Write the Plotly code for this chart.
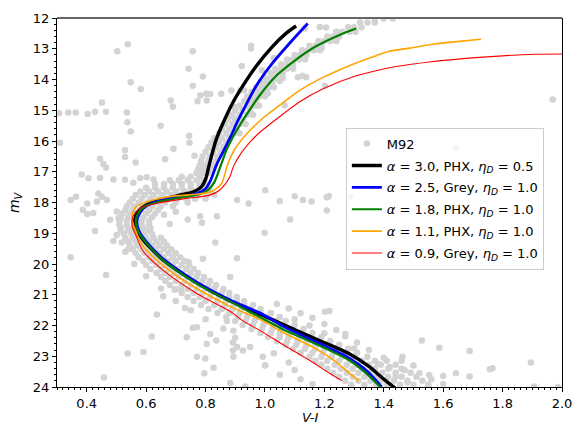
import plotly.graph_objects as go

# ---------------- isochrones (V-I, m_V) ----------------
black_x = [1.105, 1.071, 1.026, 0.971, 0.926, 0.893, 0.856, 0.835, 0.813, 0.800, 0.786, 0.760, 0.713, 0.646,
           0.601, 0.573, 0.562, 0.567, 0.589, 0.612, 0.655, 0.765, 0.878, 0.990, 1.060, 1.172, 1.284, 1.351,
           1.396, 1.440]
black_y = [12.26, 12.50, 12.92, 13.56, 14.20, 14.73, 15.48, 15.98, 16.75, 17.25, 17.49, 17.65, 17.76, 17.92,
           18.08, 18.29, 18.56, 18.88, 19.20, 19.45, 19.85, 20.58, 21.18, 21.66, 21.96, 22.44, 22.92, 23.34,
           23.71, 24.05]

blue_x = [1.144, 1.083, 1.026, 0.971, 0.930, 0.902, 0.889, 0.862, 0.838, 0.817, 0.800, 0.772, 0.700, 0.646,
          0.601, 0.578, 0.569, 0.576, 0.601, 0.657, 0.769, 0.881, 0.993, 1.060, 1.172, 1.284, 1.340, 1.393]
blue_y = [12.18, 12.82, 13.46, 14.20, 14.94, 15.48, 15.77, 16.30, 16.75, 17.28, 17.55, 17.71, 17.84, 17.94,
          18.11, 18.35, 18.61, 18.93, 19.28, 19.83, 20.58, 21.16, 21.64, 22.02, 22.54, 23.06, 23.45, 24.00]

green_x = [1.307, 1.251, 1.172, 1.105, 1.038, 0.982, 0.937, 0.898, 0.870, 0.853, 0.830, 0.808, 0.780, 0.700,
           0.646, 0.595, 0.573, 0.565, 0.573, 0.595, 0.655, 0.767, 0.879, 0.948, 1.060, 1.172, 1.284, 1.340,
           1.390]
green_y = [12.34, 12.55, 12.92, 13.35, 13.88, 14.52, 15.16, 15.77, 16.30, 16.75, 17.33, 17.60, 17.73, 17.87,
           17.97, 18.13, 18.35, 18.61, 18.93, 19.25, 19.86, 20.62, 21.20, 21.55, 22.12, 22.60, 23.13, 23.55,
           24.02]

orange_x = [1.727, 1.654, 1.576, 1.486, 1.419, 1.385, 1.307, 1.194, 1.116, 1.049, 0.993, 0.945, 0.896, 0.875,
            0.853, 0.825, 0.791, 0.679, 0.612, 0.567, 0.554, 0.554, 0.562, 0.589, 0.657, 0.769, 0.881, 0.993,
            1.060, 1.172, 1.239, 1.284, 1.316]
orange_y = [12.69, 12.76, 12.84, 12.98, 13.08, 13.19, 13.46, 13.94, 14.36, 14.84, 15.26, 15.70, 16.30, 16.75,
            17.40, 17.62, 17.71, 17.81, 17.95, 18.13, 18.35, 18.61, 18.85, 19.41, 20.05, 20.79, 21.37, 21.85,
            22.22, 22.76, 23.18, 23.55, 23.80]

red_x = [2.05, 1.912, 1.721, 1.553, 1.441, 1.385, 1.307, 1.194, 1.116, 1.049, 0.985, 0.958, 0.916, 0.893,
         0.881, 0.847, 0.814, 0.735, 0.634, 0.578, 0.556, 0.553, 0.565, 0.589, 0.657, 0.769, 0.881, 0.926,
         0.990, 1.060, 1.150, 1.217, 1.260]
red_y = [13.17, 13.18, 13.28, 13.43, 13.58, 13.69, 13.88, 14.31, 14.73, 15.21, 15.70, 15.95, 16.45, 16.85,
         17.18, 17.60, 17.76, 17.87, 18.03, 18.19, 18.45, 18.77, 19.05, 19.57, 20.20, 20.95, 21.53, 21.85,
         22.20, 22.62, 23.13, 23.55, 23.80]

iso_labels = [
    "<i>α</i> = 3.0, PHX, <i>η<sub>D</sub></i> = 0.5",
    "<i>α</i> = 2.5, Grey, <i>η<sub>D</sub></i> = 1.0",
    "<i>α</i> = 1.8, PHX, <i>η<sub>D</sub></i> = 1.0",
    "<i>α</i> = 1.1, PHX, <i>η<sub>D</sub></i> = 1.0",
    "<i>α</i> = 0.9, Grey, <i>η<sub>D</sub></i> = 1.0",
]

# ---------------- M92 photometry ----------------
m92_outliers = [
    (0.503, 13.08), (0.538, 12.85), (0.757, 13.08), (0.953, 12.90), (0.953, 12.99), (0.743, 13.65),
    (0.791, 13.90), (0.757, 14.20), (0.548, 14.09), (0.582, 14.31), (0.922, 13.56), (0.917, 14.36),
    (0.945, 14.57), (0.816, 14.47), (0.804, 14.68), (0.782, 14.52), (0.451, 14.75), (0.363, 15.07),
    (0.338, 15.07), (0.307, 15.10), (0.403, 15.12), (0.428, 15.05), (0.465, 15.05), (0.535, 15.07),
    (0.537, 15.39), (0.548, 15.69), (0.683, 14.68), (0.690, 14.89), (0.649, 15.50), (0.310, 16.06),
    (0.745, 15.83), (0.746, 16.06), (0.692, 16.25), (0.529, 16.29), (0.529, 16.52), (0.445, 16.58),
    (0.456, 16.75), (0.465, 16.86), (0.565, 16.70), (0.664, 16.59), (0.763, 16.48), (0.383, 17.09),
    (0.406, 17.21), (0.445, 17.20), (0.490, 17.25), (0.529, 17.26), (0.557, 17.36), (0.580, 17.20),
    (0.602, 17.18), (0.625, 17.25), (0.364, 17.81), (0.346, 17.92), (0.387, 18.24), (0.402, 18.37),
    (0.422, 18.34), (0.402, 18.03), (0.434, 17.97), (0.451, 17.81), (0.468, 17.92), (0.501, 18.29),
    (0.507, 18.50), (0.479, 18.56), (0.439, 17.71), (0.428, 18.93), (0.346, 19.78), (0.465, 20.36),
    (0.501, 19.06), (0.490, 19.25), (0.518, 19.30), (0.540, 19.51), (0.782, 18.45), (0.788, 18.66),
    (0.838, 18.45), (0.906, 17.92), (0.945, 18.03), (1.001, 17.60), (1.085, 18.55), (0.999, 18.98),
    (0.833, 19.30), (0.906, 19.81), (0.883, 20.42), (0.791, 19.83), (0.743, 19.94), (0.66, 18.40),
    (0.70, 18.30), (0.68, 18.70), (0.74, 18.55),
    (0.619, 22.36), (0.538, 22.91), (0.591, 22.86), (0.458, 23.69), (0.771, 23.02), (0.799, 23.07),
    (0.827, 23.37), (0.796, 23.55), (0.894, 23.02), (0.906, 22.70), (1.001, 23.29), (0.934, 23.98),
    (0.883, 23.87), (0.872, 21.85), (0.894, 22.17), (0.816, 22.28), (0.658, 21.05), (0.731, 21.43),
    (0.771, 22.06), (0.737, 22.38), (0.636, 21.64), (0.804, 22.60), (0.696, 20.84), (0.718, 20.84),
    (0.836, 22.49), (0.892, 22.55), (0.892, 22.81), (0.926, 22.81), (0.757, 22.07),
    (1.206, 12.31), (1.083, 13.54), (1.066, 14.84), (1.127, 13.88), (1.134, 12.34), (1.185, 12.29),
    (1.191, 12.98), (1.111, 13.93), (1.139, 13.93), (1.202, 14.20), (1.969, 14.65), (0.773, 14.71),
    (0.802, 14.46), (0.853, 14.46), (0.887, 14.36), (0.90, 14.90), (0.88, 15.20), (0.93, 14.35),
    (0.99, 13.70), (1.03, 13.30), (1.01, 14.45), (1.05, 14.05), (0.97, 14.85),
    (1.128, 17.92), (1.157, 17.97), (1.208, 17.83), (1.215, 17.79), (1.208, 18.26), (1.290, 17.81),
    (1.643, 16.22), (1.05, 17.95), (1.10, 17.80),
    (1.202, 21.55), (1.271, 22.28), (1.528, 22.49), (1.689, 22.83), (1.895, 23.20), (1.757, 23.42),
    (1.689, 23.66), (1.600, 23.64), (1.986, 24.00), (1.587, 22.72), (1.766, 23.39), (1.643, 23.55),
    (1.906, 23.98), (1.463, 23.02), (1.553, 23.61), (1.217, 21.53),
]

m92_binary = [
    (1.04, 21.30), (1.08, 21.45), (1.12, 21.60), (1.16, 21.75), (1.20, 21.95), (1.24, 22.15),
    (1.27, 22.35), (1.31, 22.55), (1.35, 22.80), (1.40, 23.05), (1.46, 23.15), (1.50, 23.30),
    (1.42, 23.35), (1.47, 23.45), (1.52, 23.55), (1.44, 23.65), (1.56, 23.75), (1.48, 23.85),
    (1.60, 23.90), (1.55, 24.00), (1.10, 21.80), (1.15, 22.00), (1.20, 22.25), (1.30, 22.75),
    (1.38, 23.25),
    (0.993, 23.02), (1.00, 23.30), (1.10, 23.45), (1.05, 23.60), (1.12, 23.75), (1.16, 23.90),
    (1.08, 23.20), (1.03, 22.90), (0.95, 22.70), (0.90, 22.40), (0.86, 22.10), (0.80, 21.80),
    (0.75, 21.50), (0.70, 21.20), (0.65, 20.80), (0.60, 20.40), (0.56, 20.00), (0.53, 19.60),
]

m92_rgb_rows = [
    (17.04, [0.77, 0.79, 0.81]), (16.92, [0.775, 0.795, 0.815]), (16.80, [0.78, 0.80, 0.825]),
    (16.65, [0.785, 0.81, 0.835]), (16.50, [0.79, 0.815, 0.84]), (16.35, [0.80, 0.825, 0.85]),
    (16.20, [0.81, 0.835, 0.86]), (16.05, [0.82, 0.845, 0.87]), (15.90, [0.83, 0.855, 0.88]),
    (15.75, [0.845, 0.87, 0.895, 0.915]), (15.60, [0.855, 0.88, 0.905]), (15.45, [0.865, 0.89, 0.915, 0.935]),
    (15.30, [0.875, 0.90, 0.925]), (15.15, [0.89, 0.915, 0.94, 0.96]), (15.00, [0.90, 0.925, 0.95]),
    (14.85, [0.915, 0.94, 0.96, 0.98]), (14.70, [0.93, 0.95, 0.97]), (14.55, [0.94, 0.96, 0.98, 1.00]),
    (14.40, [0.955, 0.975, 0.995]), (14.25, [0.97, 0.99, 1.01, 1.03]), (14.10, [0.985, 1.005, 1.025]),
    (13.95, [1.00, 1.02, 1.04, 1.06]), (13.80, [1.02, 1.04, 1.06]), (13.65, [1.035, 1.055, 1.075, 1.095]),
    (13.50, [1.055, 1.075, 1.095]), (13.35, [1.075, 1.095, 1.115, 1.135]), (13.20, [1.10, 1.12, 1.14]),
    (13.05, [1.125, 1.145, 1.165, 1.185]), (12.90, [1.15, 1.17, 1.19]), (12.75, [1.18, 1.20, 1.22, 1.24]),
    (12.60, [1.21, 1.23, 1.25]), (12.45, [1.24, 1.26, 1.285, 1.305]), (12.30, [1.28, 1.30, 1.325]),
    (12.15, [1.32, 1.345, 1.37]), (12.02, [1.37, 1.40, 1.43]),
]

m92_sgb_rows = [
    (17.16, [0.72, 0.75, 0.78]),
    (17.28, [0.68, 0.71, 0.74, 0.77, 0.795]),
    (17.40, [0.63, 0.66, 0.69, 0.72, 0.75, 0.78, 0.80]),
    (17.52, [0.60, 0.63, 0.66, 0.69, 0.72, 0.75, 0.78, 0.805]),
    (17.64, [0.58, 0.61, 0.64, 0.67, 0.70, 0.73, 0.76, 0.79, 0.815]),
    (17.76, [0.565, 0.595, 0.625, 0.655, 0.685, 0.715, 0.745, 0.775, 0.805, 0.83]),
    (17.88, [0.555, 0.585, 0.615, 0.645, 0.675, 0.705, 0.735, 0.765, 0.80]),
    (18.00, [0.545, 0.575, 0.605, 0.635, 0.665, 0.70, 0.74]),
    (18.12, [0.535, 0.56, 0.59, 0.62, 0.65, 0.69]),
    (18.24, [0.53, 0.555, 0.58, 0.61, 0.64]),
    (18.36, [0.52, 0.545, 0.57, 0.60, 0.63]),
    (18.48, [0.515, 0.54, 0.565, 0.59, 0.62]),
    (18.60, [0.51, 0.535, 0.56, 0.585, 0.61]),
    (18.72, [0.51, 0.535, 0.56, 0.585, 0.61]),
    (18.84, [0.515, 0.54, 0.565, 0.59, 0.615]),
]

m92_ms_rows = [
    (18.90, [0.515, 0.54, 0.56, 0.585, 0.61]),
    (19.02, [0.525, 0.55, 0.57, 0.595, 0.62]),
    (19.15, [0.53, 0.555, 0.58, 0.60, 0.625, 0.65]),
    (19.27, [0.54, 0.565, 0.59, 0.61, 0.635, 0.66]),
    (19.40, [0.545, 0.57, 0.595, 0.62, 0.645, 0.67]),
    (19.52, [0.555, 0.585, 0.605, 0.63, 0.66, 0.685]),
    (19.65, [0.565, 0.595, 0.62, 0.645, 0.675, 0.70]),
    (19.78, [0.575, 0.61, 0.635, 0.66, 0.69, 0.715]),
    (19.90, [0.59, 0.62, 0.65, 0.675, 0.70, 0.73]),
    (20.03, [0.60, 0.635, 0.665, 0.69, 0.72, 0.745]),
    (20.16, [0.615, 0.65, 0.68, 0.705, 0.735, 0.76]),
    (20.29, [0.635, 0.665, 0.695, 0.72, 0.75, 0.775]),
    (20.42, [0.65, 0.68, 0.71, 0.74, 0.77, 0.795]),
    (20.55, [0.665, 0.70, 0.73, 0.76, 0.79, 0.815]),
    (20.68, [0.68, 0.72, 0.75, 0.78, 0.81, 0.835]),
    (20.81, [0.70, 0.74, 0.77, 0.80, 0.83, 0.86]),
    (20.94, [0.72, 0.76, 0.79, 0.82, 0.855, 0.88]),
    (21.07, [0.74, 0.78, 0.815, 0.845, 0.88, 0.905]),
    (21.20, [0.76, 0.80, 0.84, 0.87, 0.905, 0.93]),
    (21.33, [0.785, 0.83, 0.865, 0.895, 0.93, 0.96]),
    (21.46, [0.81, 0.855, 0.89, 0.92, 0.955, 0.985]),
    (21.59, [0.84, 0.88, 0.915, 0.945, 0.985, 1.02]),
    (21.72, [0.87, 0.91, 0.94, 0.97, 1.01, 1.05]),
    (21.85, [0.90, 0.935, 0.965, 1.00, 1.035, 1.07]),
    (21.98, [0.925, 0.96, 0.995, 1.03, 1.06, 1.10]),
    (22.11, [0.955, 0.99, 1.025, 1.055, 1.09, 1.13]),
    (22.24, [0.985, 1.02, 1.05, 1.085, 1.12, 1.16]),
    (22.37, [1.01, 1.05, 1.08, 1.115, 1.15, 1.19]),
    (22.50, [1.04, 1.075, 1.11, 1.14, 1.18, 1.22]),
    (22.63, [1.07, 1.105, 1.14, 1.17, 1.21, 1.25]),
    (22.76, [1.095, 1.135, 1.17, 1.20, 1.24, 1.28]),
    (22.89, [1.12, 1.16, 1.195, 1.23, 1.27, 1.31]),
    (23.02, [1.15, 1.19, 1.225, 1.26, 1.30, 1.345]),
    (23.15, [1.17, 1.21, 1.25, 1.285, 1.325, 1.37, 1.41]),
    (23.28, [1.19, 1.235, 1.275, 1.31, 1.35, 1.39, 1.44]),
    (23.41, [1.21, 1.255, 1.295, 1.33, 1.37, 1.415, 1.46]),
    (23.54, [1.23, 1.275, 1.315, 1.355, 1.395, 1.44, 1.49]),
    (23.67, [1.25, 1.295, 1.335, 1.375, 1.415, 1.46, 1.51]),
    (23.80, [1.27, 1.315, 1.355, 1.39, 1.435, 1.48, 1.53]),
    (23.93, [1.29, 1.335, 1.375, 1.41, 1.455, 1.50, 1.55]),
]

# ---------------- build ----------------
m92_x, m92_y = [], []
for px_, py_ in m92_outliers + m92_binary:
    m92_x.append(px_)
    m92_y.append(py_)
for rows in (m92_rgb_rows, m92_sgb_rows, m92_ms_rows):
    for yv, xs in rows:
        for xv in xs:
            m92_x.append(xv)
            m92_y.append(yv)

fig = go.Figure()
fig.add_trace(go.Scatter(
    x=m92_x, y=m92_y, mode="markers", name="M92", legendgroup="g0",
    marker=dict(color="#d3d3d3", size=6.5, line=dict(width=0)),
))

iso = [
    (black_x, black_y, "black", 3.4),
    (blue_x, blue_y, "#0000ff", 2.8),
    (green_x, green_y, "#008000", 2.2),
    (orange_x, orange_y, "#ffa500", 1.6),
    (red_x, red_y, "#ff0000", 1.1),
]
for i, ((xs, ys, col, w), lab) in enumerate(zip(iso, iso_labels)):
    fig.add_trace(go.Scatter(
        x=xs, y=ys, mode="lines", name=lab, legendgroup=f"g{i+1}",
        line=dict(color=col, width=w, shape="spline", smoothing=0.8),
    ))

fig.update_layout(
    width=583, height=426,
    margin=dict(l=57, r=21, t=11, b=39),
    plot_bgcolor="white", paper_bgcolor="white",
    font=dict(family="DejaVu Sans", size=13, color="black"),
    showlegend=True,
    legend=dict(
        x=0.572, y=0.703, xanchor="left", yanchor="top",
        bgcolor="rgba(255,255,255,0.8)", bordercolor="#cccccc", borderwidth=1,
        font=dict(family="DejaVu Sans", size=13, color="black"),
        tracegroupgap=2, traceorder="grouped",
    ),
    xaxis=dict(
        range=[0.3, 2.0], tick0=0.4, dtick=0.2, tickformat=".1f",
        ticks="outside", ticklen=4, tickwidth=1, tickcolor="black",
        showline=True, linecolor="black", linewidth=1, mirror=False,
        showgrid=False, zeroline=False,
        minor=dict(dtick=0.02, tick0=0.3, ticks="outside", ticklen=2, tickwidth=1, tickcolor="black", showgrid=False),
    ),
    yaxis=dict(
        range=[24, 12], tick0=12, dtick=1,
        ticks="outside", ticklen=4, tickwidth=1, tickcolor="black",
        showline=True, linecolor="black", linewidth=1, mirror=True,
        showgrid=False, zeroline=False,
        minor=dict(dtick=0.2, ticks="outside", ticklen=2, tickwidth=1, tickcolor="black", showgrid=False),
    ),
    annotations=[
        dict(text="<i>V-I</i>", x=0.5, y=-0.082, xref="paper", yref="paper",
             xanchor="center", yanchor="middle", showarrow=False, font=dict(size=13)),
        dict(text="<i>m</i><sub><i>V</i></sub>", x=-0.084, y=0.5, xref="paper", yref="paper",
             xanchor="center", yanchor="middle", textangle=-90, showarrow=False, font=dict(size=14)),
    ],
    shapes=[dict(type="line", xref="paper", yref="paper", x0=0, x1=1, y0=1, y1=1,
                 line=dict(color="#666666", width=2))],
)

fig.write_html("out.html")
